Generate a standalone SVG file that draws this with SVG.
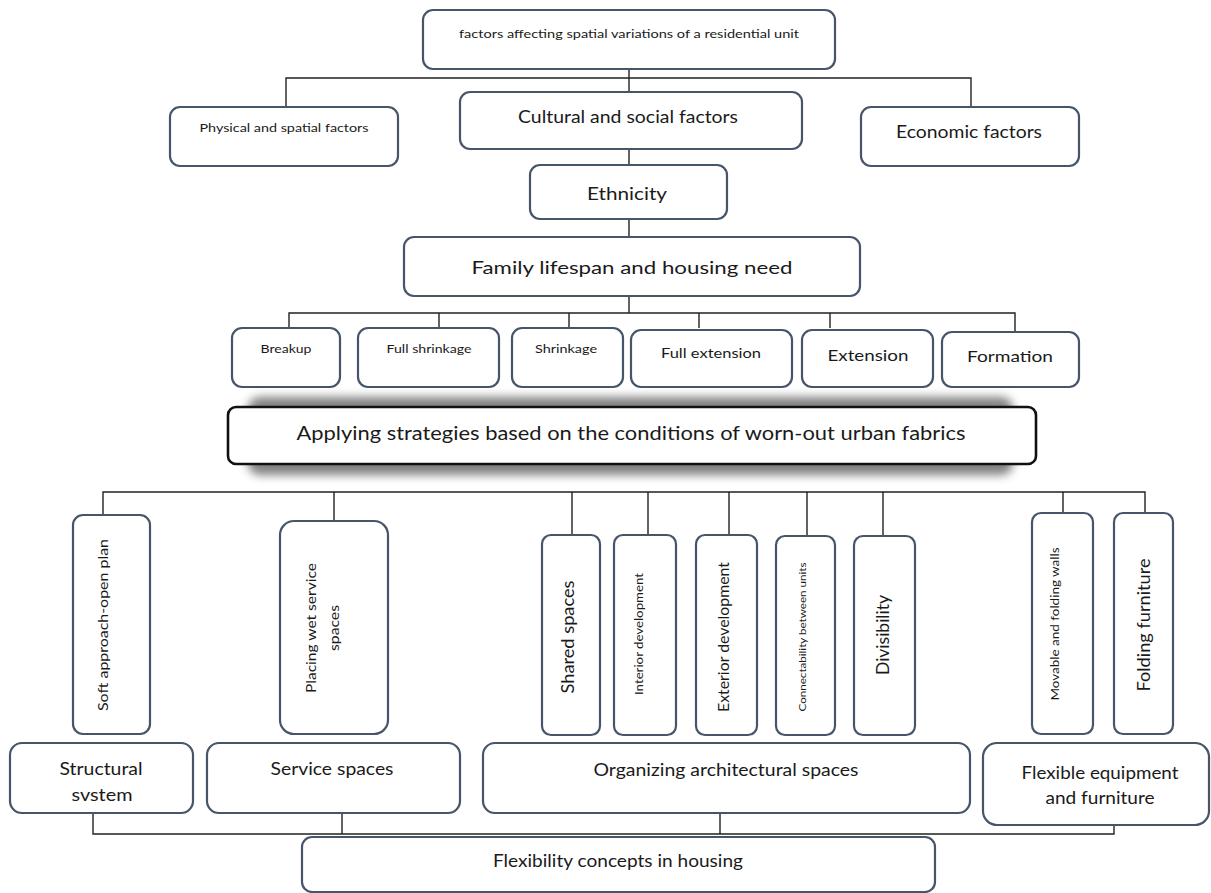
<svg xmlns="http://www.w3.org/2000/svg" width="1211" height="893" viewBox="0 0 1211 893">
<defs>
<style>
.box{fill:#fff;stroke:#465569;stroke-width:2.2}
.bbox{fill:#fff;stroke:#111;stroke-width:2.6}
.c{fill:none;stroke:#222;stroke-width:1.4}
text{font-family:Lato,"Open Sans","Liberation Sans",sans-serif;fill:#1a1a1a;text-anchor:middle;dominant-baseline:central}
</style>
<filter id="blur" x="-10%" y="-50%" width="120%" height="200%">
<feGaussianBlur stdDeviation="5"/>
</filter>
</defs>
<rect width="1211" height="893" fill="#fff"/>
<g id="connectors">
<path class="c" d="M629 69V92M286 107V78H971V107"/>
<path class="c" d="M629 149V165M629 219V237M629 296V313M289 328V313H1015V332M439 313V328M569 313V328M699 313V328M830 313V328"/>
<path class="c" d="M103 515V492H1145V513M334 492V521M572 492V535M648 492V535M729 492V535M807 492V535M883 492V536M1063 492V513"/>
<path class="c" d="M93 813V834H1114V825M342 813V834M720 813V834"/>
</g>
<g id="n-top"><rect class="box" x="423" y="10" width="412" height="59" rx="10"/><text x="629" y="33" font-size="11" textLength="340" lengthAdjust="spacingAndGlyphs">factors affecting spatial variations of a residential unit</text></g>
<g id="n-physical"><rect class="box" x="170" y="107" width="228" height="59" rx="10"/><text x="284" y="128" font-size="10.5" textLength="169" lengthAdjust="spacingAndGlyphs">Physical and spatial factors</text></g>
<g id="n-cultural"><rect class="box" x="460" y="92" width="342" height="57" rx="10"/><text x="628" y="116" font-size="17" textLength="220" lengthAdjust="spacingAndGlyphs">Cultural and social factors</text></g>
<g id="n-economic"><rect class="box" x="861" y="107" width="218" height="59" rx="10"/><text x="969" y="131" font-size="17" textLength="146" lengthAdjust="spacingAndGlyphs">Economic factors</text></g>
<g id="n-ethnicity"><rect class="box" x="530" y="165" width="197" height="54" rx="10"/><text x="627" y="193" font-size="18" textLength="80" lengthAdjust="spacingAndGlyphs">Ethnicity</text></g>
<g id="n-family"><rect class="box" x="404" y="237" width="456" height="59" rx="10"/><text x="632" y="267" font-size="18" textLength="321" lengthAdjust="spacingAndGlyphs">Family lifespan and housing need</text></g>
<g id="n-breakup"><rect class="box" x="232" y="328" width="108" height="59" rx="10"/><text x="286" y="349" font-size="10.5" textLength="51" lengthAdjust="spacingAndGlyphs">Breakup</text></g>
<g id="n-fullshrink"><rect class="box" x="358" y="328" width="141" height="59" rx="10"/><text x="429" y="349" font-size="10.5" textLength="85" lengthAdjust="spacingAndGlyphs">Full shrinkage</text></g>
<g id="n-shrink"><rect class="box" x="512" y="328" width="111" height="59" rx="10"/><text x="566" y="349" font-size="10.5" textLength="62" lengthAdjust="spacingAndGlyphs">Shrinkage</text></g>
<g id="n-fullext"><rect class="box" x="631" y="330" width="161" height="57" rx="10"/><text x="711" y="353" font-size="13.5" textLength="100" lengthAdjust="spacingAndGlyphs">Full extension</text></g>
<g id="n-ext"><rect class="box" x="802" y="330" width="131" height="57" rx="10"/><text x="868" y="354" font-size="16" textLength="81" lengthAdjust="spacingAndGlyphs">Extension</text></g>
<g id="n-formation"><rect class="box" x="942" y="332" width="137" height="55" rx="10"/><text x="1010" y="355" font-size="16" textLength="86" lengthAdjust="spacingAndGlyphs">Formation</text></g>
<g id="n-applying"><rect x="248" y="397" width="765" height="78" rx="12" fill="#6a6a6a" opacity="0.85" filter="url(#blur)"/><rect class="bbox" x="228" y="407" width="808" height="57" rx="8"/><text x="631" y="433" font-size="18.5" textLength="669" lengthAdjust="spacingAndGlyphs">Applying strategies based on the conditions of worn-out urban fabrics</text></g>
<g id="n-soft"><rect class="box" x="73" y="515" width="77" height="219" rx="10"/><text transform="translate(102,625) rotate(-90)" font-size="14" textLength="172" lengthAdjust="spacingAndGlyphs">Soft approach-open  plan</text></g>
<g id="n-placing"><rect class="box" x="280" y="521" width="108" height="213" rx="14"/><g transform="translate(322,628) rotate(-90)"><text x="0" y="-12" font-size="14" textLength="130" lengthAdjust="spacingAndGlyphs">Placing wet service</text><text x="0" y="11" font-size="14" textLength="46" lengthAdjust="spacingAndGlyphs">spaces</text></g></g>
<g id="n-shared"><rect class="box" x="542" y="535" width="58" height="200" rx="9"/><text transform="translate(567,637) rotate(-90)" font-size="18" textLength="113" lengthAdjust="spacingAndGlyphs">Shared spaces</text></g>
<g id="n-interior"><rect class="box" x="614" y="535" width="62" height="200" rx="9"/><text transform="translate(639,634) rotate(-90)" font-size="10.5" textLength="122" lengthAdjust="spacingAndGlyphs">Interior  development</text></g>
<g id="n-exterior"><rect class="box" x="696" y="535" width="61" height="200" rx="9"/><text transform="translate(723,637) rotate(-90)" font-size="15" textLength="150" lengthAdjust="spacingAndGlyphs">Exterior development</text></g>
<g id="n-connect"><rect class="box" x="776" y="536" width="59" height="199" rx="9"/><text transform="translate(802,637) rotate(-90)" font-size="9" textLength="149" lengthAdjust="spacingAndGlyphs">Connectability between units</text></g>
<g id="n-divis"><rect class="box" x="854" y="536" width="61" height="199" rx="9"/><text transform="translate(882,635) rotate(-90)" font-size="18" textLength="80" lengthAdjust="spacingAndGlyphs">Divisibility</text></g>
<g id="n-movable"><rect class="box" x="1032" y="513" width="61" height="221" rx="9"/><text transform="translate(1055,624) rotate(-90)" font-size="10.5" textLength="153" lengthAdjust="spacingAndGlyphs">Movable and folding walls</text></g>
<g id="n-folding"><rect class="box" x="1114" y="513" width="59" height="221" rx="9"/><text transform="translate(1143,625) rotate(-90)" font-size="17" textLength="133" lengthAdjust="spacingAndGlyphs">Folding furniture</text></g>
<g id="n-structural"><rect class="box" x="10" y="743" width="183" height="70" rx="12"/><text x="101" y="769" font-size="16.5" textLength="83" lengthAdjust="spacingAndGlyphs">Structural</text><text x="102" y="795" font-size="16.5" textLength="61" lengthAdjust="spacingAndGlyphs">svstem</text></g>
<g id="n-service"><rect class="box" x="207" y="743" width="253" height="70" rx="12"/><text x="332" y="769" font-size="16.5" textLength="123" lengthAdjust="spacingAndGlyphs">Service spaces</text></g>
<g id="n-organizing"><rect class="box" x="483" y="743" width="487" height="70" rx="12"/><text x="726" y="769" font-size="17" textLength="265" lengthAdjust="spacingAndGlyphs">Organizing architectural spaces</text></g>
<g id="n-flexible"><rect class="box" x="983" y="743" width="226" height="82" rx="14"/><text x="1100" y="772" font-size="17" textLength="157" lengthAdjust="spacingAndGlyphs">Flexible equipment</text><text x="1100" y="797" font-size="17" textLength="109" lengthAdjust="spacingAndGlyphs">and furniture</text></g>
<g id="n-concepts"><rect class="box" x="302" y="837" width="633" height="55" rx="10"/><text x="618" y="860" font-size="17" textLength="250" lengthAdjust="spacingAndGlyphs">Flexibility  concepts in housing</text></g>
</svg>
